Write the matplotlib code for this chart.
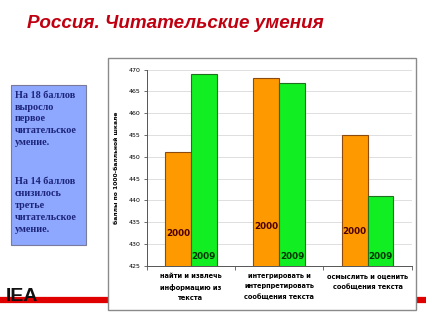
import numpy as np
import matplotlib
matplotlib.use("Agg")
import matplotlib.pyplot as plt
from matplotlib.patches import Rectangle
from matplotlib.lines import Line2D

# данные
categories = ["найти и извлечь\nинформацию из\nтекста",
              "интегрировать и\nинтерпретировать\nсообщения текста",
              "осмыслить и оценить\nсообщения текста"]
scores_2000 = [451, 468, 455]
scores_2009 = [469, 467, 441]
label_y_2000 = [432.3, 434, 432.8]
label_y_2009 = [427.2, 427.2, 427.2]
yticks = list(range(425, 471, 5))

fig = plt.figure(figsize=(4.27, 3.2), dpi=100)
fig.patch.set_facecolor("white")

# красная полоса внизу
fig.add_artist(Line2D([0, 1], [0.0625, 0.0625], color="#E00000", lw=4.5,
                      transform=fig.transFigure, zorder=0))

# рамка диаграммы
fig.add_artist(Rectangle((0.253, 0.031), 0.721, 0.788, transform=fig.transFigure,
                         facecolor="white", edgecolor="#8a8a8a", lw=1.0, zorder=1))

# заголовок
fig.text(0.063, 0.925, "Россия. Читательские умения", color="#C00010",
         fontsize=13.6, fontweight="bold", fontstyle="italic",
         family="Liberation Sans", va="center", ha="left")

# синяя плашка
fig.add_artist(Rectangle((0.026, 0.234), 0.175, 0.500, transform=fig.transFigure,
                         facecolor="#8FA8FF", edgecolor="#7a7a9a", lw=0.8, zorder=1))
fig.text(0.035, 0.717, "На 18 баллов\nвыросло\nпервое\nчитательское\nумение.",
         color="#1B2478", fontsize=7.3, fontweight="bold", family="Liberation Serif",
         va="top", ha="left", linespacing=1.42, zorder=2)
fig.text(0.035, 0.447, "На 14 баллов\nснизилось\nтретье\nчитательское\nумение.",
         color="#1B2478", fontsize=7.3, fontweight="bold", family="Liberation Serif",
         va="top", ha="left", linespacing=1.42, zorder=2)

# логотип
fig.text(0.014, 0.073, "IEA", color="#111111", fontsize=14, fontweight="bold",
         family="Liberation Sans", va="center", ha="left", zorder=3)

ax = fig.add_axes([0.3436, 0.1697, 0.6206, 0.6125])
ax.set_zorder(2)
ax.patch.set_alpha(0)

x = np.arange(len(categories))
w = 0.292
ax.bar(x - w / 2, scores_2000, w, color="#FF9900", edgecolor="#8B4A10", lw=0.8, zorder=3)
ax.bar(x + w / 2, scores_2009, w, color="#11EE22", edgecolor="#207020", lw=0.8, zorder=3)

for i in range(len(categories)):
    ax.text(x[i] - w / 2, label_y_2000[i], "2000", color="#4A0000", fontsize=6.3,
            fontweight="bold", ha="center", va="center", zorder=4)
    ax.text(x[i] + w / 2, label_y_2009[i], "2009", color="#003300", fontsize=6.3,
            fontweight="bold", ha="center", va="center", zorder=4)

ax.set_xlim(-0.5, 2.5)
ax.set_ylim(425, 470)
ax.set_yticks(yticks)
ax.tick_params(axis="y", labelsize=4.5, length=2.5, width=0.6, color="#555555", pad=2)
ax.yaxis.grid(True, color="#d9d9d9", lw=0.6, zorder=0)
ax.set_axisbelow(True)

ax.set_xticks([-0.5, 0.5, 1.5, 2.5])
ax.set_xticklabels([])
ax.tick_params(axis="x", which="major", length=3, width=0.6, color="#555555")
ax.set_xticks(x, minor=True)
ax.set_xticklabels(categories, minor=True)
ax.tick_params(axis="x", which="minor", length=0, labelsize=4.8, pad=5)
for t in ax.get_xticklabels(minor=True):
    t.set_fontweight("bold")
    t.set_linespacing(1.85)

ax.set_ylabel("баллы по 1000-балльной шкале", fontsize=4.3, fontweight="bold", labelpad=7)

for s in ["top", "right"]:
    ax.spines[s].set_visible(False)
for s in ["left", "bottom"]:
    ax.spines[s].set_color("#555555")
    ax.spines[s].set_linewidth(0.7)

fig.savefig("out.png", dpi=100)
